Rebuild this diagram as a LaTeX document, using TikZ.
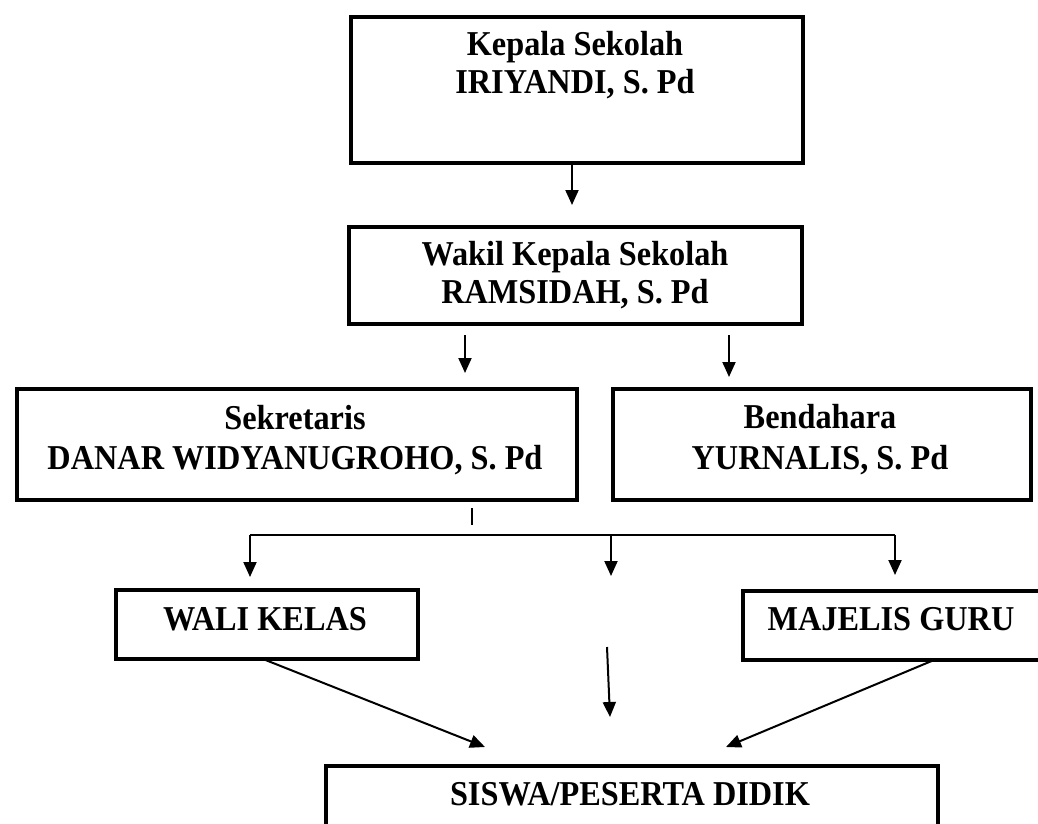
\documentclass[tikz,border=0pt]{standalone}
\usepackage{fontspec}
\usepackage{graphicx}
\setmainfont{Liberation Serif}
\usetikzlibrary{arrows.meta}
\newcommand\tallword[1]{\scalebox{1}[1.08]{#1}}
\begin{document}
\begin{tikzpicture}[x=1pt,y=-1pt,
  box/.style={draw, line width=4pt, inner sep=0pt, anchor=north west},
  lbl/.style={font=\fontsize{32.3}{38}\selectfont\bfseries, anchor=base, inner sep=0pt},
  arr/.style={line width=2pt, -{Triangle[length=15pt,width=13pt]}},
  thin/.style={line width=1.6pt}]
\useasboundingbox (0,0) rectangle (1038,823);
\clip (0,0) rectangle (1038,823);

% boxes
\node[box, minimum width=452pt, minimum height=146pt] (b1) at (349,15) {};
\node[box, minimum width=453pt, minimum height=97pt]  (b2) at (347,225) {};
\node[box, minimum width=560pt, minimum height=111pt] (b3) at (15,387) {};
\node[box, minimum width=418pt, minimum height=111pt] (b4) at (611,387) {};
\node[box, minimum width=302pt, minimum height=69pt]  (wali) at (114,588) {};
\node[box, minimum width=300pt, minimum height=69pt]  (majelis) at (741,589) {};
\node[box, minimum width=612pt, minimum height=96pt]  (siswa) at (324,764) {};

% texts
\node[lbl] (t1a) at (575,55)  {\tallword{Kepala Sekolah}};
\node[lbl] (t1b) at (575,93)  {\tallword{IRIYANDI, S. Pd}};
\node[lbl] (t2a) at (575,265) {\tallword{Wakil Kepala Sekolah}};
\node[lbl] (t2b) at (575,303) {\tallword{RAMSIDAH, S. Pd}};
\node[lbl] (t3a) at (295,429) {\tallword{Sekretaris}};
\node[lbl] (t3b) at (295,469) {\tallword{DANAR WIDYANUGROHO, S. Pd}};
\node[lbl] (t4a) at (820,428) {\tallword{Bendahara}};
\node[lbl] (t4b) at (820,469) {\tallword{YURNALIS, S. Pd}};
\node[lbl] (t5)  at (265,630) {\tallword{WALI KELAS}};
\node[lbl] (t6)  at (891,630) {\tallword{MAJELIS GURU}};
\node[lbl] (t7)  at (630,805) {\tallword{SISWA/PESERTA DIDIK}};

% coordinates
\coordinate (e1) at (572,205);
\coordinate (s2a) at (465,335);
\coordinate (e2a) at (465,373);
\coordinate (s2b) at (729,335);
\coordinate (e2b) at (729,377);
\coordinate (k1) at (472,508);
\coordinate (k2) at (472,525);
\coordinate (hL) at (250,535);
\coordinate (hM) at (611,535);
\coordinate (hR) at (895,535);
\coordinate (eL) at (250,577);
\coordinate (eM) at (611,576);
\coordinate (eR) at (895,575);
\coordinate (sC) at (607,647);
\coordinate (eC) at (610,717);
\coordinate (sW) at (263,659);
\coordinate (eW) at (485,747);
\coordinate (sG) at (934,660);
\coordinate (eG) at (726,747);

% connectors
\draw[arr] (b1.south -| e1) -- (e1);
\draw[arr] (s2a) -- (e2a);
\draw[arr] (s2b) -- (e2b);
\draw[line width=2pt] (k1) -- (k2);
\draw[thin] (hL) -- (hR);
\draw[arr] (hL) -- (eL);
\draw[arr] (hM) -- (eM);
\draw[arr] (hR) -- (eR);
\draw[arr] (sC) -- (eC);
\draw[arr] (sW) -- (eW);
\draw[arr] (sG) -- (eG);
\end{tikzpicture}
\end{document}
